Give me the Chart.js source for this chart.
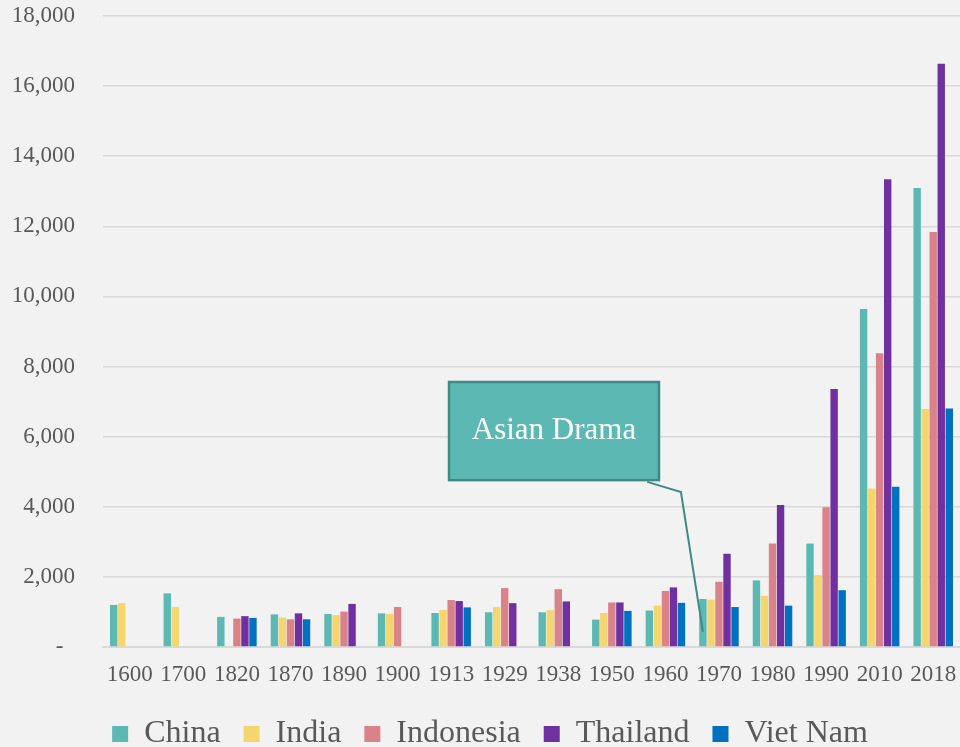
<!DOCTYPE html>
<html>
<head>
<meta charset="utf-8">
<script src="https://cdn.jsdelivr.net/npm/chart.js@4"></script>
<style>
  html, body { margin: 0; padding: 0; background: #f2f2f2; }
  #wrap { position: relative; width: 960px; height: 747px; }
</style>
</head>
<body>
<div id="wrap"><canvas id="gdpChart"></canvas></div>
<script>
// Chart data
const years = ['1600', '1700', '1820', '1870', '1890', '1900', '1913', '1929', '1938', '1950', '1960', '1970', '1980', '1990', '2010', '2018'];
const china     = [1200, 1530, 860, 930, 940, 960, 970, 990, 990, 780, 1040, 1370, 1900, 2950, 9640, 13090];
const india     = [1250, 1140, null, 840, 910, 940, 1060, 1140, 1050, 970, 1180, 1350, 1460, 2050, 4520, 6790];
const indonesia = [null, null, 810, 790, 1010, 1140, 1340, 1680, 1650, 1270, 1600, 1860, 2950, 3990, 8380, 11840];
const thailand  = [null, null, 880, 960, 1230, null, 1310, 1250, 1300, 1270, 1700, 2660, 4050, 7360, 13340, 16640];
const vietnam   = [null, null, 830, 790, null, null, 1130, null, null, 1030, 1260, 1140, 1180, 1620, 4570, 6800];
const yTicks = [0, 2000, 4000, 6000, 8000, 10000, 12000, 14000, 16000, 18000];

// Callout: box corners as (category index, value), pointer ends at 1970 China bar
const callout = {
  text: 'Asian Drama',
  box: { x0: 5.96, x1: 9.88, yTop: 7560, yBottom: 4760 },
  elbow: { from: [9.66, 4710], mid: [10.29, 4420] },
  target: { dataset: 0, year: '1970', value: 430 }
};

const serif = '"Liberation Serif", "Times New Roman", serif';
const grey = '#595959';

const bgPlugin = {
  id: 'bg',
  beforeDraw(chart) {
    const c = chart.ctx;
    c.save();
    c.fillStyle = '#f2f2f2';
    c.fillRect(0, 0, chart.width, chart.height);
    c.restore();
  }
};

// fixed legend height so the plot keeps the reference proportions,
// and nudge the legend row a bit right like in the original
const legendTweak = {
  id: 'legendTweak',
  beforeInit(chart) {
    const fit = chart.legend.fit;
    chart.legend.fit = function () {
      fit.call(this);
      this.height = 52;
    };
  },
  afterLayout(chart) {
    chart.legend.left += 10;
    chart.legend.right += 10;
  }
};

const calloutPlugin = {
  id: 'callout',
  afterDraw(chart) {
    const x = chart.scales.x, y = chart.scales.y, c = chart.ctx;
    const left = x.getPixelForValue(callout.box.x0);
    const right = x.getPixelForValue(callout.box.x1);
    const top = y.getPixelForValue(callout.box.yTop);
    const bottom = y.getPixelForValue(callout.box.yBottom);
    const bar = chart.getDatasetMeta(callout.target.dataset).data[years.indexOf(callout.target.year)];

    c.save();
    c.strokeStyle = '#3f8a84';
    c.lineWidth = 2;
    c.beginPath();
    c.moveTo(x.getPixelForValue(callout.elbow.from[0]), y.getPixelForValue(callout.elbow.from[1]));
    c.lineTo(x.getPixelForValue(callout.elbow.mid[0]), y.getPixelForValue(callout.elbow.mid[1]));
    c.lineTo(bar.x, y.getPixelForValue(callout.target.value));
    c.stroke();

    c.fillStyle = '#5cb8b2';
    c.fillRect(left, top, right - left, bottom - top);
    c.lineWidth = 2.5;
    c.strokeRect(left, top, right - left, bottom - top);

    c.fillStyle = '#ffffff';
    c.font = '31px ' + serif;
    c.textAlign = 'center';
    c.textBaseline = 'middle';
    c.fillText(callout.text, (left + right) / 2, (top + bottom) / 2);
    c.restore();
  }
};

function series(label, data, color) {
  return {
    label: label,
    data: data,
    backgroundColor: color,
    borderWidth: 0,
    categoryPercentage: 0.75,
    barPercentage: 0.92
  };
}

const ctx = document.getElementById('gdpChart').getContext('2d');
const gdpChart = new Chart(ctx, {
  type: 'bar',
  data: {
    labels: years,
    datasets: [
      series('China', china, '#5cb8b2'),
      series('India', india, '#f5d56e'),
      series('Indonesia', indonesia, '#d9828a'),
      series('Thailand', thailand, '#7030a0'),
      series('Viet Nam', vietnam, '#0070c0')
    ]
  },
  options: {
    responsive: true,
    maintainAspectRatio: false,
    animation: false,
    layout: { padding: { top: 16, right: 0, left: 0, bottom: 0 } },
    scales: {
      x: {
        afterFit(scale) {
          scale.height = 48;
          scale.paddingLeft = 0;
          scale.paddingRight = 0;
        },
        grid: { display: false, drawTicks: false },
        border: { color: '#d9d9d9', width: 2 },
        ticks: {
          color: grey,
          padding: 14,
          maxRotation: 0,
          autoSkip: false,
          font: { family: serif, size: 23 }
        }
      },
      y: {
        min: 0,
        max: 18000,
        afterFit(scale) {
          scale.width = 103;
          scale.paddingTop = 0;
          scale.paddingBottom = 0;
        },
        afterBuildTicks(scale) { scale.ticks = yTicks.map(v => ({ value: v })); },
        grid: { color: '#d9d9d9', lineWidth: 1.5, drawTicks: false },
        border: { display: false },
        ticks: {
          color: grey,
          padding: 28,
          font: { family: serif, size: 23 },
          callback: v => v === 0 ? '-  ' : v.toLocaleString('en-US')
        }
      }
    },
    plugins: {
      legend: {
        position: 'bottom',
        labels: {
          color: grey,
          boxWidth: 16,
          boxHeight: 16,
          padding: 23,
          font: { family: serif, size: 32 }
        }
      },
      tooltip: { enabled: false }
    }
  },
  plugins: [bgPlugin, legendTweak, calloutPlugin]
});
</script>
</body>
</html>
